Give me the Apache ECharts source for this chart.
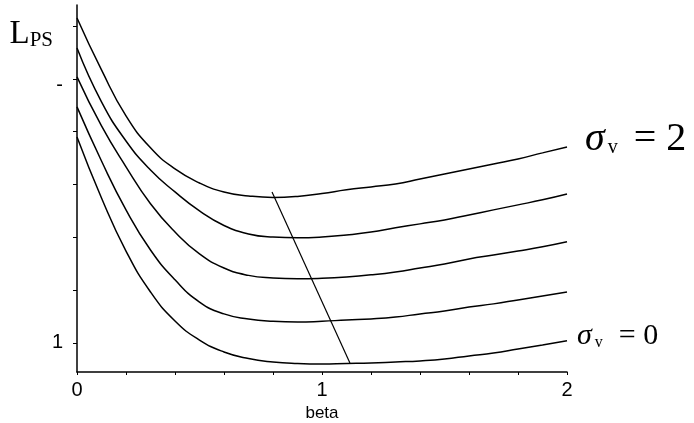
<!DOCTYPE html>
<html>
<head>
<meta charset="utf-8">
<script src="https://cdn.jsdelivr.net/npm/echarts@6/dist/echarts.min.js"></script>
<style>html,body{margin:0;padding:0;background:#fff;}#c{width:694px;height:423px;}</style>
</head>
<body>
<div id="c"></div>
<script>
const beta = [0,0.1,0.2,0.3,0.4,0.5,0.6,0.7,0.8,0.9,1.0,1.1,1.2,1.3,1.4,1.5,1.6,1.7,1.8,1.9,2.0];
const sigma2  = [2.231,2.034,1.860,1.739,1.659,1.606,1.572,1.557,1.551,1.555,1.566,1.580,1.591,1.602,1.621,1.640,1.659,1.678,1.697,1.720,1.742];
const sigma15 = [2.117,1.913,1.765,1.655,1.572,1.500,1.445,1.413,1.401,1.398,1.401,1.409,1.420,1.436,1.451,1.466,1.485,1.504,1.523,1.542,1.564];
const sigma1  = [2.008,1.822,1.667,1.527,1.420,1.337,1.284,1.256,1.246,1.243,1.245,1.250,1.258,1.269,1.284,1.299,1.318,1.333,1.348,1.364,1.383];
const sigma05 = [1.894,1.689,1.504,1.352,1.239,1.155,1.110,1.091,1.082,1.079,1.082,1.087,1.091,1.098,1.110,1.121,1.136,1.148,1.163,1.178,1.193];
const sigma0  = [1.780,1.549,1.348,1.193,1.083,1.011,0.966,0.941,0.928,0.922,0.920,0.922,0.924,0.928,0.932,0.939,0.951,0.962,0.977,0.992,1.008];
const minLine = [[0.796,1.572],[1.114,0.924]];
const xLabels = [0,1,2];
const yTicks = [1.0,1.2,1.4,1.6,1.8,2.0,2.2];
const yLabels = [1,2];

const pairs = ys => beta.map((b,i)=>[b, ys[i]]);
const serif = 'Liberation Serif, Times New Roman, serif';
const sans = 'Liberation Sans, Arial, sans-serif';
const curveStyle = {color:'#000', width:1.5};

function curve(name, ys, extra){
  return Object.assign({
    name, type:'line', data: pairs(ys), showSymbol:false, symbol:'none',
    smooth:0.5, lineStyle:curveStyle, silent:true
  }, extra||{});
}
function sigmaLabel(val, big, small, gap, dist, dy){
  return {
    show:true, distance:dist, offset:[0,dy],
    formatter:'{s|σ}{v|v}{e|= '+val+'}',
    rich:{
      s:{fontFamily:serif, fontStyle:'italic', fontSize:big, color:'#000'},
      v:{fontFamily:serif, fontSize:small, color:'#000', padding:[Math.round(big*0.45),gap,0,3]},
      e:{fontFamily:serif, fontSize:big, color:'#000'}
    }
  };
}

const chart = echarts.init(document.getElementById('c'));
chart.setOption({
  backgroundColor:'#fff',
  animation:false,
  grid:{left:77, right:127, top:5, bottom:51, containLabel:false, outerBoundsMode:'none'},
  xAxis:{
    type:'value', min:0, max:2, interval:0.2,
    name:'beta', nameLocation:'middle', nameGap:30,
    nameTextStyle:{fontFamily:sans, fontSize:17, color:'#000'},
    axisLine:{lineStyle:{color:'#000', width:1.5}},
    axisTick:{length:3, lineStyle:{color:'#000'}},
    axisLabel:{
      customValues:xLabels, margin:8,
      fontFamily:sans, fontSize:20, color:'#000',
      formatter:v=>String(Math.round(v))
    },
    splitLine:{show:false}
  },
  yAxis:{
    type:'value', min:0.89, max:2.28,
    name:'{l|L}{p|PS}', nameLocation:'end', nameGap:-46,
    nameTextStyle:{align:'right', padding:[0,24,0,0],
      rich:{
        l:{fontFamily:serif, fontSize:33, color:'#000'},
        p:{fontFamily:serif, fontSize:21, color:'#000', padding:[12,0,0,0]}
      }},
    axisLine:{lineStyle:{color:'#000', width:1.5}},
    axisTick:{customValues:yTicks, length:4, lineStyle:{color:'#000'}},
    axisLabel:{
      customValues:yLabels, margin:14,
      fontFamily:sans, fontSize:20, color:'#000',
      formatter:v=> Math.abs(v-1)<1e-6 ? '1' : '{d|-}',
      rich:{d:{fontFamily:sans, fontSize:20, color:'#000', padding:[14,0,0,0]}}
    },
    splitLine:{show:false}
  },
  series:[
    curve('σv=2', sigma2, {endLabel:sigmaLabel(2, 40, 20, 16, 18, -8)}),
    curve('σv=1.5', sigma15),
    curve('σv=1', sigma1),
    curve('σv=0.5', sigma05),
    curve('σv=0', sigma0, {endLabel:sigmaLabel(0, 30, 16, 16, 10, -5)}),
    {name:'minimum', type:'line', data:minLine, showSymbol:false, symbol:'none',
     lineStyle:{color:'#000', width:1.2}, silent:true}
  ]
});
</script>
</body>
</html>
